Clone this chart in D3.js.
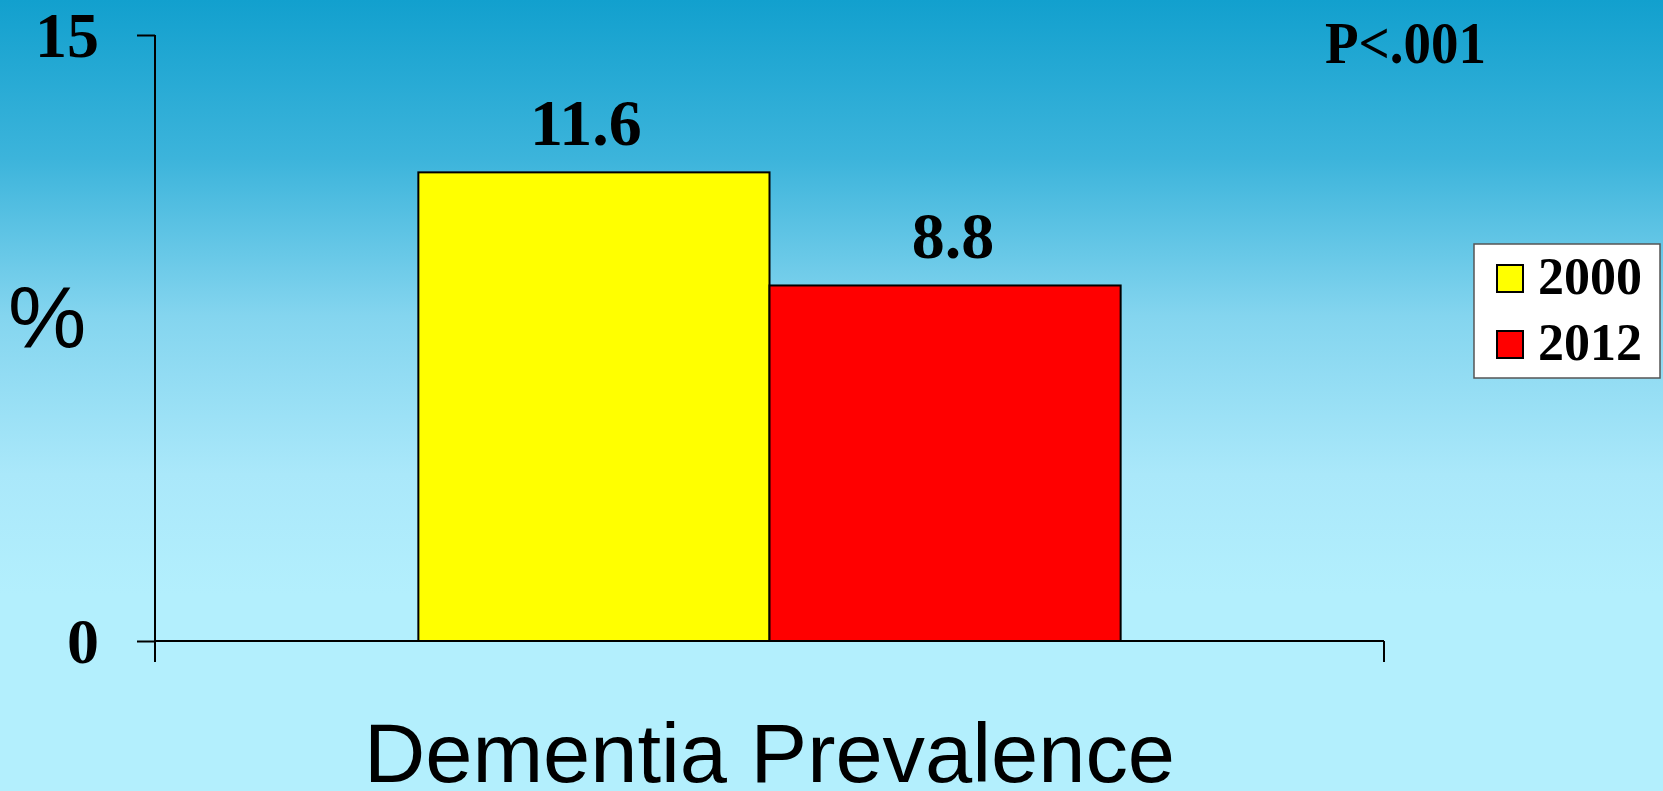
<!DOCTYPE html>
<html>
<head>
<meta charset="utf-8">
<script src="https://cdn.jsdelivr.net/npm/d3@7"></script>
<style>
  html, body { margin: 0; padding: 0; overflow: hidden; }
  svg { display: block; }
</style>
</head>
<body>
<svg id="chart" width="1663" height="791"></svg>
<script>
// Chart data
const categories = ["Dementia Prevalence"];
const seriesNames = ["2000", "2012"];
const seriesValues = [11.6, 8.8];
const seriesColors = ["#ffff00", "#ff0000"];
const yTicks = [0, 15];
const pValueLabel = "P<.001";
const yAxisLabel = "%";

const W = 1663, H = 791;
const svg = d3.select("#chart");

// Sky-blue vertical gradient background
const defs = svg.append("defs");
const grad = defs.append("linearGradient")
  .attr("id", "bg").attr("x1", 0).attr("y1", 0).attr("x2", 0).attr("y2", 1);
[[0, "#12a0ce"], [0.2, "#3cb4db"], [0.4, "#84d5ef"], [0.6, "#aae8fa"], [0.75, "#b3effd"], [1, "#b3effd"]]
  .forEach(([o, c]) => grad.append("stop").attr("offset", o).attr("stop-color", c));
svg.append("rect").attr("width", W).attr("height", H).attr("fill", "url(#bg)");

// Scales
const plotLeft = 155, plotRight = 1384, plotTop = 35, plotBottom = 641;
const y = d3.scaleLinear().domain([0, 15]).range([plotBottom, plotTop]);
const x0 = d3.scaleBand().domain(categories).range([plotLeft, plotRight])
  .paddingInner(0).paddingOuter(0.375);
const x1 = d3.scaleBand().domain(seriesNames).range([0, x0.bandwidth()]).padding(0);

const serif = "'Liberation Serif', 'Times New Roman', serif";
const sans = "'Liberation Sans', Arial, sans-serif";

// Bars
const g = svg.append("g");
categories.forEach(cat => {
  const grp = g.append("g").attr("transform", `translate(${x0(cat)},0)`);
  grp.selectAll("rect")
    .data(seriesNames.map((s, i) => ({ s, v: seriesValues[i], c: seriesColors[i] })))
    .join("rect")
    .attr("x", d => x1(d.s))
    .attr("y", d => y(d.v))
    .attr("width", x1.bandwidth())
    .attr("height", d => y(0) - y(d.v))
    .attr("fill", d => d.c)
    .attr("stroke", "#000")
    .attr("stroke-width", 2);
  // value labels, nudged toward the shared bar edge
  grp.selectAll("text.val")
    .data(seriesNames.map((s, i) => ({ s, v: seriesValues[i], i })))
    .join("text")
    .attr("class", "val")
    .attr("x", d => x1(d.s) + x1.bandwidth() / 2 + (d.i === 0 ? -8 : 8))
    .attr("y", d => y(d.v) - 27)
    .attr("text-anchor", "middle")
    .style("font-family", serif)
    .style("font-weight", "bold")
    .style("font-size", "66px")
    .text(d => d.v.toFixed(1));
});

// Y axis
const yAxis = d3.axisLeft(y).tickValues(yTicks).tickSize(18).tickPadding(38).tickSizeOuter(0);
const yg = svg.append("g").attr("transform", `translate(${plotLeft},0)`).call(yAxis);
yg.select(".domain").remove();
yg.selectAll(".tick line").attr("stroke", "#000").attr("stroke-width", 2);
yg.selectAll(".tick text")
  .attr("fill", "#000")
  .style("font-family", serif)
  .style("font-weight", "bold")
  .style("font-size", "64px")
  .attr("dy", "0.34em");
// vertical axis line, running past the baseline
svg.append("line")
  .attr("x1", plotLeft).attr("x2", plotLeft)
  .attr("y1", y(15)).attr("y2", y(0) + 21)
  .attr("stroke", "#000").attr("stroke-width", 2);

// X axis: baseline with category boundary ticks
const xEdges = [x0.range()[0], x0.range()[1]];
svg.append("line")
  .attr("x1", plotLeft).attr("x2", plotRight)
  .attr("y1", y(0)).attr("y2", y(0))
  .attr("stroke", "#000").attr("stroke-width", 2);
svg.selectAll("line.xtick").data(xEdges.slice(1)).join("line")
  .attr("class", "xtick")
  .attr("x1", d => d).attr("x2", d => d)
  .attr("y1", y(0)).attr("y2", y(0) + 21)
  .attr("stroke", "#000").attr("stroke-width", 2);

// Category label
svg.selectAll("text.cat").data(categories).join("text")
  .attr("class", "cat")
  .attr("x", d => x0(d) + x0.bandwidth() / 2)
  .attr("y", 782)
  .attr("text-anchor", "middle")
  .attr("textLength", 811)
  .attr("lengthAdjust", "spacingAndGlyphs")
  .style("font-family", sans)
  .style("font-size", "83px")
  .text(d => d);

// Y axis unit label
svg.append("text")
  .attr("x", 47).attr("y", 347)
  .attr("text-anchor", "middle")
  .style("font-family", sans)
  .style("font-size", "88px")
  .text(yAxisLabel);

// Significance note
svg.append("text")
  .attr("x", 1325).attr("y", 63)
  .attr("textLength", 161)
  .attr("lengthAdjust", "spacingAndGlyphs")
  .style("font-family", serif)
  .style("font-weight", "bold")
  .style("font-size", "60px")
  .text(pValueLabel);

// Legend
const legend = svg.append("g").attr("transform", "translate(1474,244)");
legend.append("rect")
  .attr("width", 186).attr("height", 134)
  .attr("fill", "#fff").attr("stroke", "#555").attr("stroke-width", 1.5);
seriesNames.forEach((s, i) => {
  const row = legend.append("g").attr("transform", `translate(0,${21 + i * 66})`);
  row.append("rect")
    .attr("x", 23).attr("y", 0).attr("width", 26).attr("height", 27)
    .attr("fill", seriesColors[i]).attr("stroke", "#000").attr("stroke-width", 2);
  row.append("text")
    .attr("x", 64).attr("y", 29)
    .style("font-family", serif)
    .style("font-weight", "bold")
    .style("font-size", "52px")
    .text(s);
});
</script>
</body>
</html>
